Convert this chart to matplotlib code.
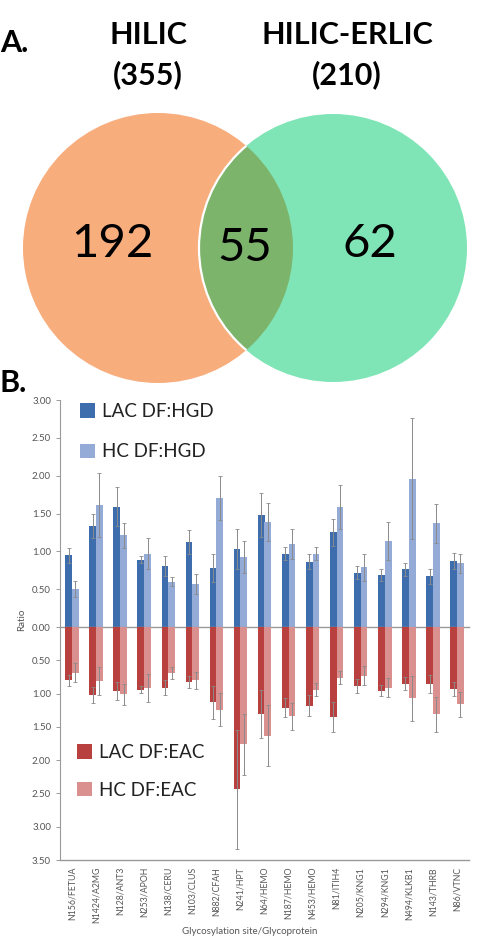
import matplotlib
matplotlib.use("Agg")
import matplotlib.pyplot as plt
import numpy as np
from matplotlib.patches import Circle

# ---------------- data ----------------
venn_labels = ["HILIC\n(355)", "HILIC-ERLIC\n(210)"]
venn_counts = [192, 55, 62]

sites = ["N156/FETUA", "N1424/A2MG", "N128/ANT3", "N253/APOH", "N138/CERU",
         "N103/CLUS", "N882/CFAH", "N241/HPT", "N64/HEMO", "N187/HEMO",
         "N453/HEMO", "N81/ITIH4", "N205/KNG1", "N294/KNG1", "N494/KLKB1",
         "N143/THRB", "N86/VTNC"]

lac_hgd = [0.95, 1.33, 1.59, 0.89, 0.81, 1.12, 0.78, 1.03, 1.48, 0.97, 0.86, 1.25, 0.72, 0.69, 0.76, 0.67, 0.87]
lac_hgd_err = [0.10, 0.16, 0.26, 0.05, 0.13, 0.16, 0.19, 0.27, 0.29, 0.09, 0.10, 0.18, 0.08, 0.08, 0.08, 0.10, 0.11]
hc_hgd = [0.50, 1.61, 1.21, 0.97, 0.60, 0.57, 1.70, 0.92, 1.39, 1.10, 0.97, 1.59, 0.79, 1.14, 1.96, 1.37, 0.84]
hc_hgd_err = [0.11, 0.42, 0.17, 0.20, 0.06, 0.13, 0.29, 0.21, 0.25, 0.20, 0.09, 0.29, 0.18, 0.25, 0.80, 0.26, 0.13]

lac_eac = [0.80, 1.02, 0.96, 0.94, 0.91, 0.83, 1.13, 2.44, 1.30, 1.21, 1.18, 1.35, 0.885, 0.955, 0.85, 0.855, 0.93]
lac_eac_err = [0.08, 0.12, 0.13, 0.05, 0.11, 0.09, 0.25, 0.89, 0.36, 0.14, 0.16, 0.22, 0.10, 0.08, 0.10, 0.13, 0.10]
hc_eac = [0.685, 0.81, 1.01, 0.92, 0.685, 0.80, 1.24, 1.76, 1.63, 1.34, 0.94, 0.76, 0.73, 0.91, 1.07, 1.31, 1.16]
hc_eac_err = [0.14, 0.21, 0.16, 0.21, 0.09, 0.13, 0.25, 0.46, 0.46, 0.20, 0.10, 0.10, 0.14, 0.14, 0.34, 0.26, 0.19]

pos_ticks = [0.0, 0.5, 1.0, 1.5, 2.0, 2.5, 3.0]
neg_ticks = [0.5, 1.0, 1.5, 2.0, 2.5, 3.0, 3.5]

# ---------------- style ----------------
W, H = 485, 938
plt.rcParams['font.family'] = ['Lato', 'DejaVu Sans']
fig = plt.figure(figsize=(W / 100, H / 100), dpi=100)

C_ORANGE = '#F8AD7D'
C_GREEN = '#80E5B6'
C_OVER = '#7DB46C'
C_DB = '#3E6DAE'
C_LB = '#94ABD7'
C_DR = '#B8403E'
C_LR = '#DA908E'
C_ERR = '#8A8A8A'
C_AX = '#9A9A9A'
C_TXT = '#555555'

# ---------------- Venn (pixel coordinate axes) ----------------
av = fig.add_axes([0, 0, 1, 1], zorder=0)
av.set_xlim(0, W)
av.set_ylim(H, 0)
av.axis('off')

c1 = Circle((158, 248), 135, facecolor=C_ORANGE, edgecolor='none')
c2 = Circle((333, 248), 134, facecolor=C_GREEN, edgecolor='none')
av.add_patch(c1)
av.add_patch(c2)
over = Circle((158, 248), 135, facecolor=C_OVER, edgecolor='none')
av.add_patch(over)
over.set_clip_path(c2)
edge = Circle((333, 248), 134, facecolor='none', edgecolor='white', lw=1.6)
av.add_patch(edge)
edge.set_clip_path(c1)

av.text(0, 43, "A.", fontsize=22, fontweight='bold', ha='left', va='center')
av.text(0, 383, "B.", fontsize=22, fontweight='bold', ha='left', va='center')
av.text(148, 55, venn_labels[0], fontsize=22, fontweight='bold', ha='center', va='center', linespacing=1.5)
av.text(347, 55, venn_labels[1], fontsize=22, fontweight='bold', ha='center', va='center', linespacing=1.5)
for (x, y), n in zip([(112, 244), (245, 248), (370, 244)], venn_counts):
    av.text(x, y, str(n), fontsize=34, ha='center', va='center', color='black')

# ---------------- bar charts ----------------
x = np.arange(len(sites))
bw = 0.28
left_px, right_px = 60, 469
top_px, zero_px, bot_px = 400, 627, 860
ax_l = left_px / W
ax_w = (right_px - left_px) / W

ax1 = fig.add_axes([ax_l, 1 - zero_px / H, ax_w, (zero_px - top_px) / H], zorder=2)
ax2 = fig.add_axes([ax_l, 1 - bot_px / H, ax_w, (bot_px - zero_px) / H], zorder=2)
for a in (ax1, ax2):
    a.patch.set_alpha(0)

ekw = dict(ecolor=C_ERR, elinewidth=0.7, capsize=1.5, capthick=0.6)
b1 = ax1.bar(x - bw / 2, lac_hgd, bw, color=C_DB, yerr=lac_hgd_err, error_kw=ekw, label='LAC DF:HGD')
b2 = ax1.bar(x + bw / 2, hc_hgd, bw, color=C_LB, yerr=hc_hgd_err, error_kw=ekw, label='HC DF:HGD')
b3 = ax2.bar(x - bw / 2, lac_eac, bw, color=C_DR, yerr=lac_eac_err, error_kw=ekw, label='LAC DF:EAC')
b4 = ax2.bar(x + bw / 2, hc_eac, bw, color=C_LR, yerr=hc_eac_err, error_kw=ekw, label='HC DF:EAC')

ax1.set_xlim(-0.5, len(sites) - 0.5)
ax2.set_xlim(-0.5, len(sites) - 0.5)
ax1.set_ylim(0, 3.0)
ax2.set_ylim(3.5, 0)

for a in (ax1, ax2):
    for s in ['top', 'right']:
        a.spines[s].set_visible(False)
    a.spines['left'].set_color(C_AX)
    a.spines['bottom'].set_color(C_AX)
    a.spines['left'].set_linewidth(0.8)
    a.spines['bottom'].set_linewidth(1.0)
    a.tick_params(axis='y', colors=C_AX, labelcolor=C_TXT, labelsize=7, length=3, width=0.7)

ax1.set_yticks(pos_ticks)
ax1.set_yticklabels([f"{t:.2f}" for t in pos_ticks])
ax1.set_xticks([])
ax2.set_yticks(neg_ticks)
ax2.set_yticklabels([f"{t:.2f}" for t in neg_ticks])
ax2.set_xticks(x)
ax2.set_xticklabels(sites, rotation=90, fontsize=6.3, color=C_TXT)
ax2.tick_params(axis='x', length=0, pad=5)

fig.text(250 / W, 1 - 931 / H, "Glycosylation site/Glycoprotein", fontsize=7, color=C_TXT,
         ha='center', va='center')
fig.text(22 / W, 1 - 620 / H, "Ratio", rotation=90, fontsize=7, color=C_TXT, ha='center', va='center')

leg1 = fig.legend(handles=[b1, b2], loc='upper left', bbox_to_anchor=(80 / W, 1 - 403 / H),
                  frameon=False, fontsize=13.5, handlelength=0.8, handleheight=0.8,
                  handletextpad=0.35, labelspacing=1.25, borderaxespad=0, borderpad=0)
leg2 = fig.legend(handles=[b3, b4], loc='upper left', bbox_to_anchor=(77 / W, 1 - 744 / H),
                  frameon=False, fontsize=13.5, handlelength=0.8, handleheight=0.8,
                  handletextpad=0.35, labelspacing=1.1, borderaxespad=0, borderpad=0)
for lg in (leg1, leg2):
    for t in lg.get_texts():
        t.set_color('#222222')

fig.savefig("out.png", dpi=100)
